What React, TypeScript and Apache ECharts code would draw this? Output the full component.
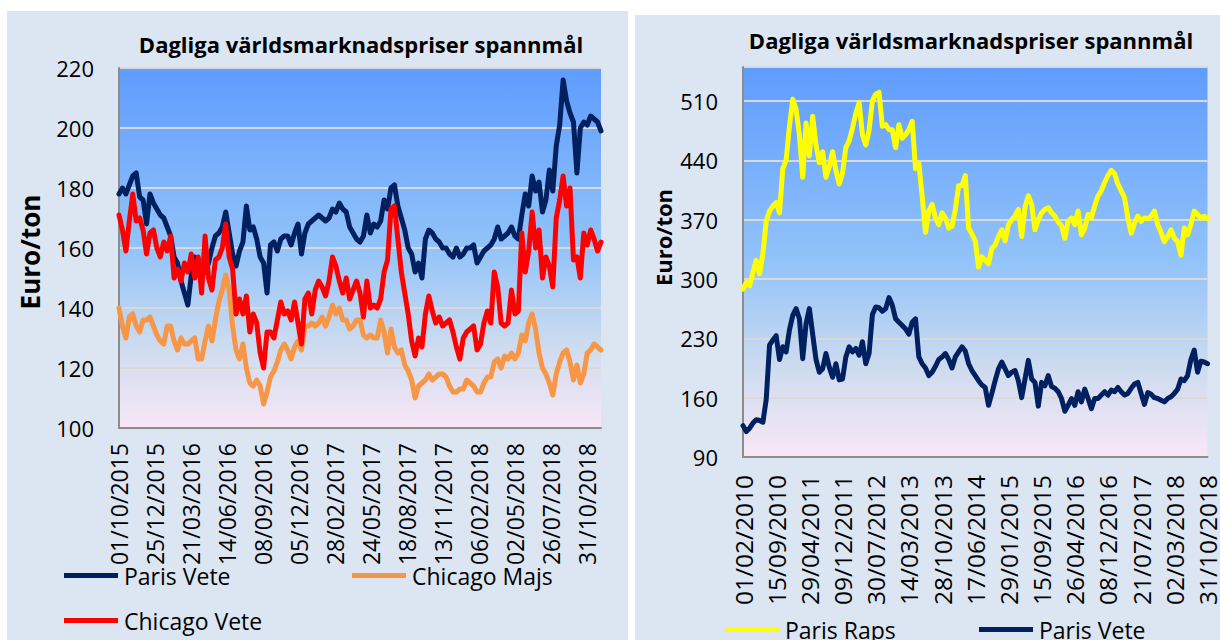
import React, { useEffect, useRef } from "react";
import * as echarts from "echarts";

// ---------- tick labels ----------
const leftTickLabels = [
  "01/10/2015", "25/12/2015", "21/03/2016", "14/06/2016", "08/09/2016",
  "05/12/2016", "28/02/2017", "24/05/2017", "18/08/2017", "13/11/2017",
  "06/02/2018", "02/05/2018", "26/07/2018", "31/10/2018",
];
const rightTickLabels = [
  "01/02/2010", "15/09/2010", "29/04/2011", "09/12/2011", "30/07/2012",
  "14/03/2013", "28/10/2013", "17/06/2014", "29/01/2015", "15/09/2015",
  "26/04/2016", "08/12/2016", "21/07/2017", "02/03/2018", "31/10/2018",
];

// ---------- left chart series (Euro/ton) ----------
const parisVeteLeft = [
  178, 180, 178, 181, 184, 185, 177, 176, 168, 178,
  175, 173, 171, 170, 167, 164, 157, 155, 149, 145,
  141, 151, 157, 156, 153, 152, 155, 160, 164, 165,
  167, 172, 165, 158, 154, 159, 162, 174, 166, 167,
  163, 157, 155, 145, 161, 162, 159, 163, 164, 164,
  161, 165, 168, 158, 165, 168, 169, 170, 171, 170,
  169, 170, 173, 172, 175, 173, 172, 167, 165, 163,
  162, 164, 171, 165, 168, 167, 169, 176, 173, 180,
  181, 174, 170, 166, 160, 158, 152, 155, 150, 163,
  166, 165, 163, 162, 160, 160, 158, 157, 160, 157,
  158, 160, 160, 161, 155, 157, 159, 160, 161, 163,
  167, 163, 164, 165, 167, 164, 163, 171, 178, 174,
  184, 179, 182, 172, 176, 186, 179, 194, 201, 216,
  209, 205, 202, 185, 200, 202, 201, 204, 203, 202,
  199,
];
const chicagoVete = [
  171, 166, 159, 169, 178, 169, 170, 166, 158, 165,
  166, 160, 157, 162, 159, 164, 150, 153, 149, 155,
  152, 158, 150, 157, 145, 164, 150, 146, 156, 157,
  160, 168, 157, 153, 138, 143, 138, 144, 132, 138,
  135, 125, 120, 132, 132, 130, 136, 142, 138, 139,
  136, 142, 135, 128, 143, 145, 138, 146, 149, 147,
  144, 149, 157, 154, 149, 145, 150, 143, 146, 149,
  145, 137, 149, 140, 141, 140, 143, 152, 156, 173,
  174, 163, 152, 145, 138, 129, 124, 130, 127, 138,
  144, 139, 135, 137, 134, 135, 136, 132, 127, 123,
  130, 132, 133, 134, 126, 128, 135, 139, 135, 152,
  147, 135, 134, 135, 146, 138, 139, 165, 152, 159,
  172, 160, 166, 150, 157, 154, 147, 170, 176, 184,
  174, 180, 156, 157, 150, 165, 161, 166, 163, 159,
  162,
];
const chicagoMajs = [
  140, 134, 130, 137, 138, 134, 132, 136, 136, 137,
  134, 131, 129, 128, 134, 134, 129, 126, 130, 128,
  128, 129, 130, 123, 123, 129, 134, 129, 136, 142,
  146, 151, 146, 134, 126, 123, 128, 120, 115, 114,
  116, 114, 108, 112, 117, 119, 122, 126, 128, 126,
  123, 127, 129, 126, 134, 134, 135, 134, 135, 137,
  134, 137, 141, 138, 140, 136, 136, 133, 134, 136,
  136, 131, 130, 131, 130, 130, 136, 132, 125, 133,
  127, 125, 126, 121, 119, 116, 110, 114, 115, 116,
  118, 116, 117, 118, 118, 117, 114, 112, 112, 113,
  113, 116, 115, 114, 112, 112, 115, 117, 117, 122,
  123, 120, 124, 123, 125, 123, 125, 131, 129, 135,
  138, 133, 125, 120, 118, 115, 111, 118, 122, 125,
  126, 122, 116, 121, 115, 118, 125, 126, 128, 127,
  126,
];

// ---------- right chart series (Euro/ton) ----------
const parisRaps = [
  288, 296, 292, 308, 322, 306, 330, 368, 380, 386,
  390, 378, 430, 440, 480, 512, 500, 470, 420, 484,
  445, 492, 458, 437, 450, 420, 432, 450, 428, 412,
  425, 455, 463, 478, 495, 508, 470, 458, 475, 510,
  518, 520, 480, 482, 476, 476, 455, 482, 466, 470,
  476, 486, 430, 436, 398, 355, 380, 388, 372, 364,
  378, 372, 360, 362, 382, 410, 410, 422, 360, 353,
  345, 314, 326, 322, 318, 336, 340, 350, 358, 345,
  364, 370, 374, 382, 350, 385, 398, 388, 358, 370,
  378, 382, 384, 378, 374, 367, 363, 348, 368, 372,
  364, 380, 352, 360, 376, 372, 386, 398, 404, 414,
  422, 428, 424, 412, 404, 396, 372, 354, 366, 374,
  368, 372, 371, 374, 380, 364, 355, 344, 350, 358,
  348, 344, 328, 360, 352, 364, 380, 376, 372, 374,
  371,
];
const parisVeteRight = [
  127, 120, 124, 130, 134, 133, 131, 158, 222, 228,
  233, 205, 220, 214, 240, 257, 265, 253, 206, 247,
  265, 235, 205, 190, 194, 212, 196, 184, 200, 181,
  182, 208, 220, 214, 218, 210, 226, 200, 212, 258,
  267, 266, 262, 265, 278, 269, 253, 249, 245, 241,
  235, 249, 253, 208, 200, 195, 186, 190, 197, 205,
  208, 212, 205, 195, 208, 214, 220, 215, 200, 192,
  186, 180, 175, 172, 151, 165, 180, 194, 202, 194,
  186, 190, 192, 180, 160, 182, 204, 182, 178, 150,
  178, 174, 186, 173, 171, 167, 159, 144, 151, 159,
  151, 167, 155, 170, 159, 147, 159, 159, 163, 167,
  163, 169, 167, 172, 167, 163, 165, 171, 176, 178,
  165, 152, 166, 164, 160, 159, 157, 155, 159, 161,
  165, 170, 182, 180, 186, 205, 216, 190, 203, 202,
  200,
];

// ---------- styling ----------
const FONT = "'Open Sans', Lato, sans-serif";
const PANEL_BG = "#dce6f2";
const GRID_LINE = "#d9d9d9";
const AXIS_LINE = "#8c8c8c";
const NAVY = "#002060";
const RED = "#ff0000";
const ORANGE = "#f79646";
const YELLOW = "#ffff00";

const plotGradient = () =>
  new echarts.graphic.LinearGradient(0, 0, 0, 1, [
    { offset: 0, color: "#5e9cfe" },
    { offset: 0.5, color: "#92c3f9" },
    { offset: 0.78, color: "#cfdcef" },
    { offset: 1, color: "#f8e7f6" },
  ]);

const lineSeries = (name: string, values: number[], color: string) => ({
  type: "line",
  name,
  data: values.map((v, i) => [i, v]),
  showSymbol: false,
  symbol: "none",
  lineStyle: { color, width: 5, cap: "round", join: "round" },
  itemStyle: { color },
  emphasis: { disabled: true },
});

const legendItem = (name: string, left: number, top: number) => ({
  data: [name],
  left,
  top,
  padding: 0,
  icon: "rect",
  itemWidth: 54,
  itemHeight: 5,
  itemGap: 0,
  selectedMode: false,
  textStyle: { fontFamily: FONT, fontSize: 23, color: "#000", padding: [0, 0, 0, 1] },
});

const titleText = (x: number, y: number) => ({
  type: "text",
  x,
  y,
  style: {
    text: "Dagliga världsmarknadspriser spannmål",
    font: `bold 22px ${FONT}`,
    fill: "#000",
    textAlign: "center",
    textVerticalAlign: "middle",
    align: "center",
    verticalAlign: "middle",
  },
});

const yNameText = (x: number, y: number, size: number) => ({
  type: "text",
  x,
  y,
  rotation: Math.PI / 2,
  style: {
    text: "Euro/ton",
    font: `bold ${size}px ${FONT}`,
    fill: "#000",
    textAlign: "center",
    textVerticalAlign: "middle",
    align: "center",
    verticalAlign: "middle",
  },
});

const LEFT_LABEL_STEP = 10.465;

const leftOption = {
  animation: false,
  backgroundColor: PANEL_BG,
  textStyle: { fontFamily: FONT },
  grid: {
    left: 112, top: 57, width: 482, height: 360,
    show: true, backgroundColor: plotGradient(), borderWidth: 0,
  },
  xAxis: {
    type: "value",
    min: 0,
    max: parisVeteLeft.length - 1,
    interval: LEFT_LABEL_STEP,
    axisLine: { show: true, onZero: false, lineStyle: { color: AXIS_LINE, width: 2 } },
    axisTick: { show: false },
    splitLine: { show: false },
    axisLabel: {
      rotate: 90,
      margin: 15,
      fontSize: 23,
      fontFamily: FONT,
      color: "#000",
      showMinLabel: true,
      showMaxLabel: true,
      formatter: (v: number) => {
        const r = v / LEFT_LABEL_STEP;
        const k = Math.round(r);
        return Math.abs(r - k) < 0.02 && leftTickLabels[k] ? leftTickLabels[k] : "";
      },
    },
  },
  yAxis: {
    type: "value",
    min: 100,
    max: 220,
    interval: 20,
    axisLine: { show: true, lineStyle: { color: AXIS_LINE, width: 2 } },
    axisTick: { show: false },
    splitLine: { show: true, lineStyle: { color: GRID_LINE, width: 2 } },
    axisLabel: { fontSize: 22, fontFamily: FONT, color: "#000", margin: 25 },
  },
  legend: [
    legendItem("Paris Vete", 57, 553),
    legendItem("Chicago Majs", 345, 553),
    legendItem("Chicago Vete", 57, 598),
  ],
  series: [
    lineSeries("Paris Vete", parisVeteLeft, NAVY),
    lineSeries("Chicago Majs", chicagoMajs, ORANGE),
    lineSeries("Chicago Vete", chicagoVete, RED),
  ],
  graphic: [titleText(354, 33), yNameText(23, 241, 26)],
};

const rightOption = {
  animation: false,
  backgroundColor: PANEL_BG,
  textStyle: { fontFamily: FONT },
  grid: {
    left: 108, top: 52, width: 472, height: 390,
    show: true, backgroundColor: plotGradient(), borderWidth: 0,
  },
  xAxis: {
    type: "value",
    min: 0,
    max: parisRaps.length - 1,
    interval: 10,
    axisLine: { show: true, onZero: false, lineStyle: { color: AXIS_LINE, width: 2 } },
    axisTick: { show: false },
    splitLine: { show: false },
    axisLabel: {
      rotate: 90,
      margin: 18,
      fontSize: 24.5,
      fontFamily: FONT,
      color: "#000",
      formatter: (v: number) => rightTickLabels[Math.round(v / 10)] ?? "",
    },
  },
  yAxis: {
    type: "value",
    min: 90,
    max: 550,
    interval: 70,
    axisLine: { show: true, lineStyle: { color: AXIS_LINE, width: 2 } },
    axisTick: { show: false },
    splitLine: { show: true, lineStyle: { color: GRID_LINE, width: 2 } },
    axisLabel: { fontSize: 22, fontFamily: FONT, color: "#000", margin: 25, showMaxLabel: false },
  },
  legend: [
    legendItem("Paris Raps", 90, 603),
    legendItem("Paris Vete", 344, 603),
  ],
  series: [
    lineSeries("Paris Raps", parisRaps, YELLOW),
    lineSeries("Paris Vete", parisVeteRight, NAVY),
  ],
  graphic: [titleText(336, 25), yNameText(27.5, 222.5, 22)],
};

function ChartPanel(props: { option: any; left: number; top: number; width: number; height: number }) {
  const ref = useRef<HTMLDivElement>(null);
  useEffect(() => {
    if (!ref.current) return;
    const chart = echarts.init(ref.current, undefined, { renderer: "svg" });
    chart.setOption(props.option);
    return () => chart.dispose();
  }, []);
  return (
    <div
      ref={ref}
      style={{
        position: "absolute",
        left: props.left,
        top: props.top,
        width: props.width,
        height: props.height,
      }}
    />
  );
}

export default function App() {
  return (
    <div
      style={{
        position: "fixed",
        left: 0,
        top: 0,
        width: 1220,
        height: 640,
        background: "#ffffff",
        overflow: "hidden",
      }}
    >
      <ChartPanel option={leftOption} left={7} top={11} width={621} height={629} />
      <ChartPanel option={rightOption} left={635} top={15} width={585} height={625} />
    </div>
  );
}
